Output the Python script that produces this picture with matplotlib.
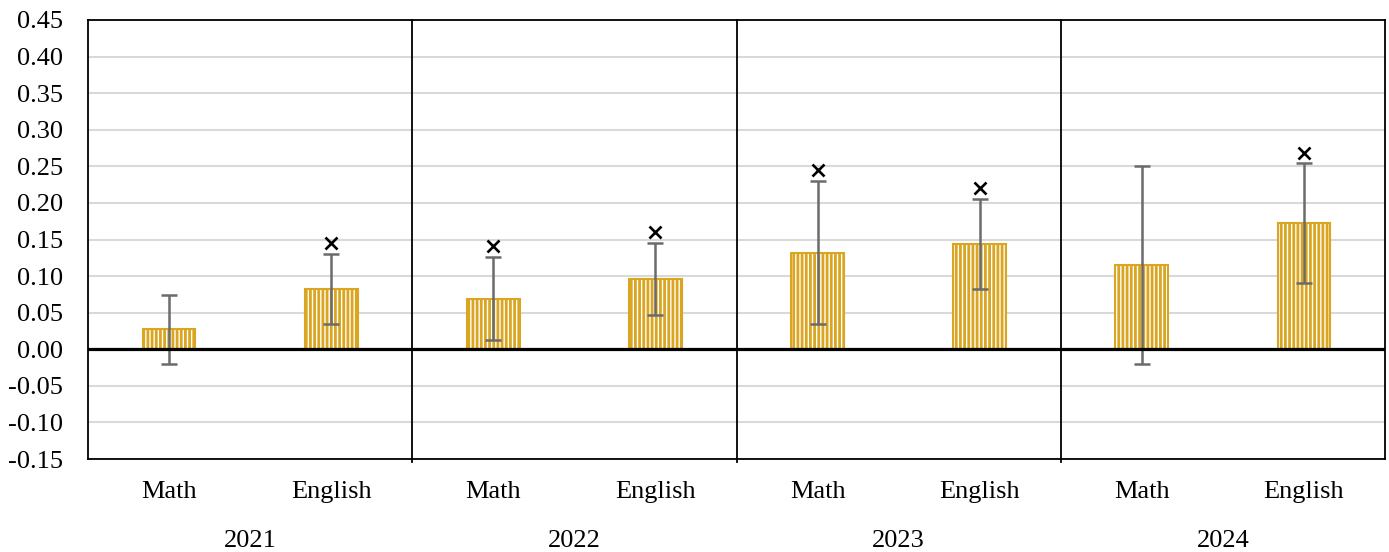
import numpy as np
import matplotlib
matplotlib.use("Agg")
import matplotlib.pyplot as plt
import matplotlib.transforms as mtransforms

# Effect-size estimates by year and subject
years = ["2021", "2022", "2023", "2024"]
subjects = ["Math", "English"]
estimates = [0.027, 0.082, 0.069, 0.096, 0.132, 0.144, 0.115, 0.172]
ci_halfwidth = [0.047, 0.048, 0.057, 0.049, 0.098, 0.062, 0.135, 0.082]
comparison = [np.nan, 0.145, 0.141, 0.160, 0.245, 0.221, np.nan, 0.268]
y_ticks = [-0.15, -0.10, -0.05, 0.00, 0.05, 0.10, 0.15, 0.20, 0.25, 0.30, 0.35, 0.40, 0.45]

plt.rcParams["font.family"] = ["Liberation Serif", "DejaVu Serif"]
plt.rcParams["hatch.linewidth"] = 2.0
plt.rcParams["hatch.color"] = "#DAA520"

fig = plt.figure(figsize=(13.89, 5.52), dpi=100)
ax = fig.add_axes([88 / 1389, 1 - 459 / 552, (1385 - 88) / 1389, (459 - 20) / 552])

labels = [s for _ in years for s in subjects]
x = np.arange(len(labels))

ax.bar(x, estimates, width=0.325, facecolor="white", edgecolor="#DAA520",
       hatch="||||", linewidth=1.5, zorder=3)
ax.errorbar(x, estimates, yerr=ci_halfwidth, fmt="none", ecolor="#6b6b6b",
            elinewidth=1.8, capsize=5.5, capthick=1.8, zorder=4)
ax.plot(x, comparison, linestyle="none", marker="x", color="black",
        markersize=8.5, markeredgewidth=1.9, zorder=5)

ax.set_ylim(-0.15, 0.45)
ax.set_xlim(-0.5, len(labels) - 0.5)
ax.set_yticks(y_ticks)
ax.set_yticklabels([f"{v:.2f}" for v in y_ticks])
ax.yaxis.grid(True, color="#d9d9d9", linewidth=1.5, zorder=0)
ax.set_axisbelow(True)

ax.set_xticks(x)
ax.set_xticklabels(labels)
ax.tick_params(axis="both", length=0, labelsize=19, colors="black")
ax.tick_params(axis="y", pad=18)
ax.tick_params(axis="x", pad=16)

for sp in ax.spines.values():
    sp.set_color("black")
    sp.set_linewidth(1.3)

ax.axhline(0, color="black", linewidth=2.3, zorder=6)

# Year separators and group labels
n_sub = len(subjects)
for i in range(1, len(years)):
    ax.plot([i * n_sub - 0.5] * 2, [-0.154, 0.45], color="black",
            linewidth=1.3, clip_on=False, zorder=6)

trans = mtransforms.blended_transform_factory(ax.transData, ax.transAxes)
for i, yr in enumerate(years):
    ax.text(i * n_sub + (n_sub - 1) / 2, -0.187, yr, transform=trans,
            ha="center", va="center", fontsize=19)

fig.savefig("out.png", dpi=100)
